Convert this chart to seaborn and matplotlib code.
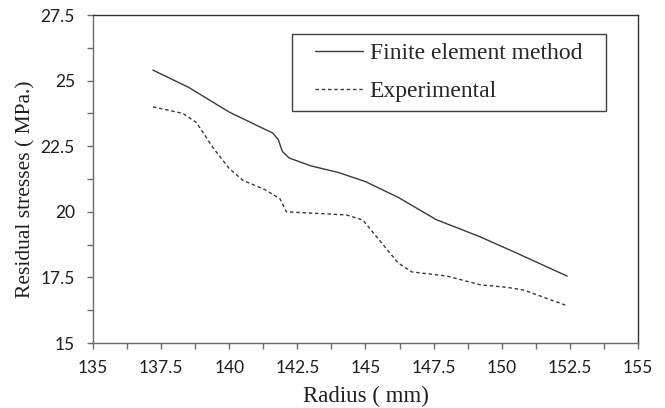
import pandas as pd
import seaborn as sns
import matplotlib.pyplot as plt
from matplotlib.patches import Rectangle
from matplotlib.ticker import MultipleLocator, FuncFormatter

# values
fem_radius = [137.2, 138.5, 140.0, 141.0, 141.6, 141.8, 141.95, 142.2, 143.0, 144.0,
              145.0, 146.2, 147.6, 149.2, 150.5, 152.4]
fem_stress = [25.4, 24.75, 23.8, 23.3, 23.0, 22.75, 22.3, 22.05, 21.75, 21.5,
              21.15, 20.55, 19.7, 19.05, 18.45, 17.55]

exp_radius = [137.2, 138.3, 138.8, 139.4, 140.0, 140.5, 141.3, 141.7, 141.86, 142.1,
              143.0, 144.3, 144.9, 145.5, 146.2, 146.7, 148.0, 149.2, 150.2, 150.8, 152.4]
exp_stress = [24.0, 23.75, 23.4, 22.45, 21.65, 21.2, 20.85, 20.6, 20.5, 20.0,
              19.95, 19.88, 19.69, 18.93, 18.05, 17.71, 17.55, 17.22, 17.12, 17.02, 16.42]

fem = pd.DataFrame({'Radius': fem_radius, 'Stress': fem_stress})
exp = pd.DataFrame({'Radius': exp_radius, 'Stress': exp_stress})

sns.set_style('white')
fig = plt.figure(figsize=(6.65, 4.08), dpi=100)
ax = fig.add_axes([0.1398, 0.1593, 0.8196, 0.8039])

sns.lineplot(data=fem, x='Radius', y='Stress', ax=ax, color='#3a3a3a', linewidth=1.0,
             label='Finite element method', sort=False)
sns.lineplot(data=exp, x='Radius', y='Stress', ax=ax, color='#3a3a3a', linewidth=1.0,
             linestyle=(0, (2.5, 2)), label='Experimental', sort=False)

ax.set_xlim(135, 155)
ax.set_ylim(15, 27.5)
fmt = FuncFormatter(lambda v, pos: '%g' % v)
ax.xaxis.set_major_locator(MultipleLocator(2.5))
ax.xaxis.set_minor_locator(MultipleLocator(1.25))
ax.yaxis.set_major_locator(MultipleLocator(2.5))
ax.yaxis.set_minor_locator(MultipleLocator(1.25))
ax.xaxis.set_major_formatter(fmt)
ax.yaxis.set_major_formatter(fmt)

for side in ['left', 'bottom']:
    ax.spines[side].set_color('#6a6a6a')
for side in ['top', 'right']:
    ax.spines[side].set_color('#333333')
for s in ax.spines.values():
    s.set_linewidth(1.0)

ax.tick_params(which='both', direction='out', length=4, width=1, color='#6a6a6a',
               bottom=True, left=True, labelsize=12.5, labelcolor='#1e1e1e')
ax.tick_params(which='major', labelfontfamily='Lato')
ax.tick_params(axis='x', which='major', pad=8)
ax.tick_params(axis='y', which='major', pad=9)

ax.set_xlabel('Radius ( mm)', family='Liberation Serif', fontsize=16.5, color='#1e1e1e', labelpad=7)
ax.set_ylabel('Residual stresses ( MPa.)', family='Liberation Serif', fontsize=15.5, color='#1e1e1e')
ax.yaxis.set_label_coords(-0.105, 0.47)

# legend box drawn as a rectangle, entries placed inside it
ax.add_patch(Rectangle((0.365, 0.707), 0.576, 0.235, transform=ax.transAxes, fill=False,
                       edgecolor='#404040', linewidth=1.0, zorder=5))
leg = ax.legend(loc='center left', bbox_to_anchor=(0.407, 0.825),
                prop={'family': 'Liberation Serif', 'size': 17}, frameon=False,
                handlelength=2.03, handletextpad=0.29, borderpad=0, labelspacing=0.70,
                borderaxespad=0)

fig.savefig('out.png', dpi=100)
